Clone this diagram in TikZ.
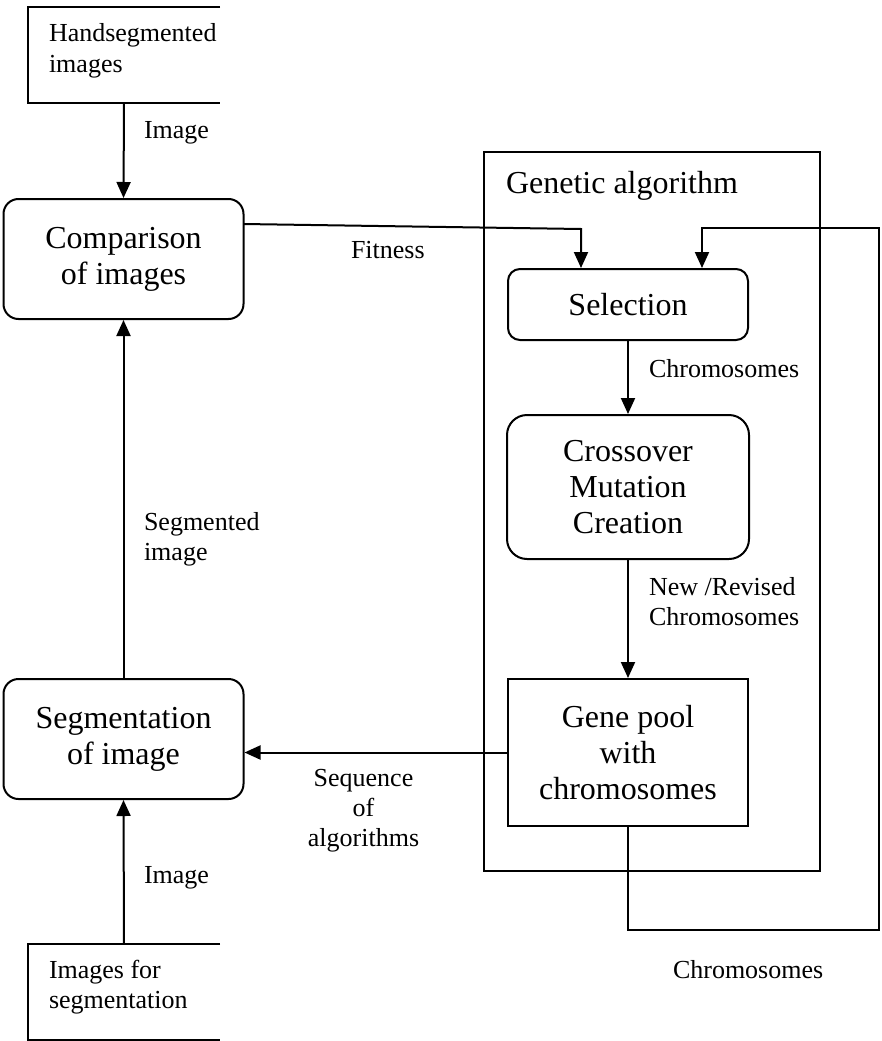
\documentclass[tikz,border=0pt]{standalone}
\usepackage{fontspec}
\setmainfont{Liberation Serif}
\usetikzlibrary{arrows.meta}
\begin{document}
\begin{tikzpicture}[x=1pt,y=-1pt,
  line width=2pt,
  big/.style={font=\fontsize{32}{36}\selectfont},
  small/.style={font=\fontsize{26}{30}\selectfont},
  block/.style={draw, big, align=center, minimum width=240, minimum height=120, inner sep=0},
  rblock/.style={block, rounded corners=15},
  lbl/.style={small, align=left, anchor=base west, inner sep=0},
  flow/.style={-{Triangle[width=14pt,length=16pt]}}]
\useasboundingbox (0,0) rectangle (881,1041);

% Main processing boxes
\node[rblock] (comp) at (123.5,259) {Comparison\\of images};
\node[rblock] (seg) at (123.5,739) {Segmentation\\of image};

% Genetic algorithm frame
\draw (484,152) rectangle (820,871);
\node[big, anchor=base west, inner sep=0] (gatitle) at (505,193) {Genetic algorithm};

\node[rblock, rounded corners=12, minimum height=71] (sel) at (628,304.5) {Selection};
\node[rblock, rounded corners=20, minimum width=242, minimum height=144] (cross) at (628,487) {Crossover\\Mutation\\Creation};
\node[block, minimum height=147] (pool) at (628,752.5) {Gene pool\\with\\chromosomes};

% Open-ended source boxes (base anchor sits on the last line)
\draw (220,7) -- (28,7) -- (28,103) -- (220,103);
\node[lbl] (hand) at (48,72) {Handsegmented\\images};
\coordinate (handout) at (124,103);

\draw (220,944) -- (28,944) -- (28,1040) -- (220,1040);
\node[lbl] (imgs) at (48,1008) {Images for\\segmentation};
\coordinate (imgsout) at (124,944);

% Connectors
\draw[flow] (handout) -- (comp.north);
\draw[flow] (imgsout) -- (seg.south);
\draw[flow] (seg.north) -- (comp.south);
\draw[flow] (sel.south) -- (cross.north);
\draw[flow] (cross.south) -- (pool.north);
\draw[flow] (pool.west) -- (seg.east |- pool.west);

\coordinate (fitA) at (243.5,224);
\coordinate (fitB) at (581,229);
\draw[flow] (fitA) -- (fitB) -- (fitB |- sel.north);

\coordinate (loopA) at (628,930);
\coordinate (loopB) at (879,930);
\coordinate (loopC) at (879,228);
\coordinate (loopD) at (702,228);
\draw[flow] (pool.south) -- (loopA) -- (loopB) -- (loopC) -- (loopD) -- (loopD |- sel.north);

% Connector labels
\node[lbl] (l1) at (143,138) {Image};
\node[lbl] (l2) at (350,258) {Fitness};
\node[lbl] (l3) at (648,377) {Chromosomes};
\node[lbl] (l4) at (648,625) {New /Revised\\Chromosomes};
\node[lbl] (l5) at (143,560) {Segmented\\image};
\node[small, align=center, anchor=base, inner sep=0] (l6) at (363.5,846) {Sequence\\of\\algorithms};
\node[lbl] (l7) at (143,883) {Image};
\node[lbl] (l8) at (672,978) {Chromosomes};
\end{tikzpicture}
\end{document}
